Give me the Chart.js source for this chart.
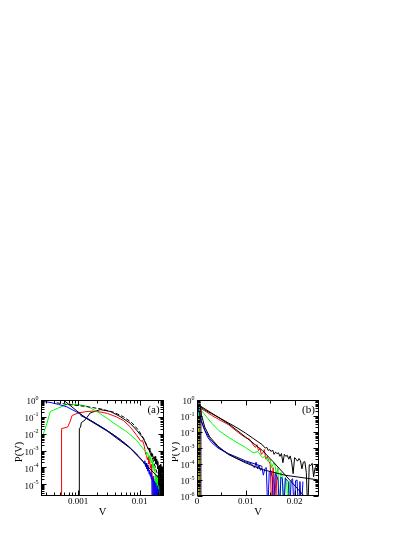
<!DOCTYPE html>
<html>
<head>
<meta charset="utf-8">
<script src="https://cdn.jsdelivr.net/npm/chart.js@4.4.1/dist/chart.umd.min.js"></script>
<style>
  html, body { margin: 0; background: #fff; }
  body { width: 415px; height: 537px; position: relative; overflow: hidden; }
  canvas { position: absolute; }
  #ca { left: 0; top: 380px; }
  #cb { left: 172px; top: 380px; }
</style>
</head>
<body>
<canvas id="ca" width="172" height="135"></canvas>
<canvas id="cb" width="170" height="135"></canvas>
<script>
// ---- panel (a): log-log ----
const aBlueV = [0.00025, 0.00035, 0.00048, 0.00066, 0.00096, 0.00139, 0.00202, 0.00294, 0.00427, 0.0062, 0.009,
  0.0116, 0.0119, 0.0122, 0.0125, 0.0128, 0.0131, 0.0134, 0.0137, 0.014, 0.0143, 0.0146, 0.0149, 0.0152, 0.0155, 0.0158,
  0.0161, 0.0164, 0.0167, 0.017, 0.0173, 0.0176, 0.0179, 0.0182, 0.0185, 0.0188, 0.0191, 0.0194, 0.0197, 0.02, 0.0203];
const aBlueP = [0.85, 0.72, 0.55, 0.39, 0.19, 0.083, 0.037, 0.016, 0.0063, 0.0022, 6e-4,
  2.2e-4, 1.6e-4, 2.5e-4, 1.1e-4, 1.8e-4, 8e-5, 1.4e-4, 6e-5, 1e-4, 4e-5, 7e-5, 3e-5, 5e-5, 2e-5, 4e-5,
  1e-7, 2.5e-5, 1.2e-5, 2e-5, 1e-7, 1.5e-5, 8e-6, 1e-7, 1.2e-5, 5e-6, 1e-7, 8e-6, 1e-7, 5e-6, 1e-7];
const aGreenV = [0.00025, 0.000313, 0.000354, 0.00066, 0.00096, 0.00139, 0.00202, 0.00294, 0.00427, 0.0062, 0.009, 0.0116,
  0.0128, 0.0132, 0.0136, 0.014, 0.0144, 0.0148, 0.0152, 0.0156, 0.016, 0.0164, 0.0168, 0.0172, 0.0176, 0.018, 0.0184,
  0.0188, 0.0192, 0.0196, 0.02, 0.0204, 0.0208];
const aGreenP = [0.004, 0.042, 0.21, 0.55, 0.55, 0.43, 0.21, 0.083, 0.032, 0.013, 0.004, 0.0012,
  8e-4, 6e-4, 7e-4, 4e-4, 5e-4, 2.5e-4, 4e-4, 1.8e-4, 2.5e-4, 1e-4, 1.6e-4, 6e-5, 1e-4, 4e-5, 1e-7,
  3e-5, 1e-5, 2e-5, 1e-7, 8e-6, 1e-7];
const aRedV = [0.00054, 0.00054, 0.00068, 0.00074, 0.0008, 0.001, 0.0013, 0.0017, 0.0022, 0.003, 0.0042, 0.0055, 0.007, 0.009, 0.0105, 0.0112,
  0.0118, 0.0122, 0.0126, 0.013, 0.0134, 0.0138, 0.0142, 0.0146, 0.015, 0.0154, 0.0158, 0.0162, 0.0166, 0.017, 0.0173, 0.0176, 0.0179];
const aRedP = [1e-7, 0.02, 0.025, 0.05, 0.12, 0.17, 0.2, 0.22, 0.2, 0.16, 0.1, 0.06, 0.026, 0.008, 0.0035, 0.004,
  2.2e-3, 1.2e-3, 6e-4, 5e-4, 2.8e-4, 4e-4, 1.6e-4, 3e-4, 9e-5, 1.5e-4, 4e-5, 1.5e-5, 3e-5, 1e-7, 1.2e-5, 1e-7, 1e-7];
const aBlackV = [0.00105, 0.00105, 0.0011, 0.00113, 0.0013, 0.00158, 0.00229, 0.00333, 0.00483, 0.00703, 0.009, 0.0116,
  0.0139, 0.0143, 0.0147, 0.0151, 0.0155, 0.0159, 0.0163, 0.0167, 0.0171, 0.0175, 0.0179, 0.0183, 0.0187, 0.0191, 0.0195,
  0.0199, 0.0203, 0.0207, 0.0211, 0.0215, 0.0219, 0.0223, 0.0227, 0.0231, 0.0235, 0.0239, 0.0243, 0.0247, 0.025];
const aBlackP = [1e-7, 0.02, 0.025, 0.045, 0.065, 0.17, 0.27, 0.21, 0.105, 0.042, 0.016, 0.005,
  1.2e-3, 1.4e-3, 8e-4, 9e-4, 7e-4, 4.5e-4, 6e-4, 3.5e-4, 4.2e-4, 2.5e-4, 4.5e-4, 1.6e-4, 3e-4, 1.5e-4, 2.2e-4,
  8e-5, 1.2e-4, 1e-7, 1.3e-4, 6e-5, 1.5e-4, 1e-7, 8e-5, 1.1e-4, 3e-5, 1e-7, 1.2e-4, 5e-5, 1e-7];
const aNavyV = [0.0011, 0.0015, 0.002, 0.003, 0.0045, 0.0065, 0.0095];
const aNavyP = [0.12, 0.07, 0.038, 0.015, 0.0055, 0.0019, 5e-4];
const aLineV = [0.00058, 0.0013, 0.003, 0.007, 0.012, 0.025];
const aLineP = [1, 0.09, 0.014, 0.0014, 1.8e-4, 1.1e-5];
const aDashV = [0.00045, 0.00066, 0.0013, 0.00229, 0.00377, 0.0055, 0.0075, 0.0095, 0.0116, 0.014, 0.0168, 0.02, 0.0235];
const aDashP = [0.68, 0.55, 0.42, 0.3, 0.19, 0.1, 0.045, 0.017, 0.0055, 0.0012, 2.5e-4, 3e-5, 2e-6];

// ---- panel (b): lin-log ----
const bBlueV = [0.00014, 0.0004, 0.0007, 0.001, 0.0016, 0.0022, 0.003, 0.0043, 0.006, 0.0078, 0.0095,
  0.0112, 0.0115, 0.0118, 0.0121, 0.0124, 0.0127, 0.013, 0.0133, 0.0136, 0.0139, 0.0142, 0.0145, 0.0148, 0.0151, 0.0154,
  0.0157, 0.016, 0.0163, 0.0166, 0.0169, 0.0172, 0.0175, 0.0178, 0.0181, 0.0184, 0.0187, 0.019, 0.0193, 0.0196, 0.0199,
  0.0202, 0.0205, 0.0208, 0.0211, 0.0214, 0.0217];
const bBlueP = [0.65, 0.2, 0.07, 0.036, 0.012, 0.0046, 0.0022, 0.001, 5e-4, 2.5e-4, 1.5e-4,
  1e-4, 7e-5, 6e-5, 1.3e-4, 5e-5, 8e-5, 4e-5, 6e-5, 2e-5, 5e-5, 6e-5, 1e-7, 3e-5, 4e-5, 1.5e-5,
  1e-7, 2.5e-5, 2e-5, 1e-5, 1e-7, 1.5e-5, 1.2e-5, 1e-7, 1.3e-5, 1e-5, 8e-6, 1e-7, 1e-5, 1.2e-5, 1e-7,
  9e-6, 1e-5, 1e-7, 8e-6, 1e-7, 8e-6];
const bGreenV = [0.0003, 0.0003, 0.001, 0.002, 0.003, 0.0045, 0.0065, 0.008, 0.0099, 0.0115, 0.0125, 0.0134, 0.014, 0.0145,
  0.015, 0.0153, 0.0157, 0.016, 0.0163, 0.0166, 0.0169, 0.0172, 0.0175, 0.0178, 0.0181, 0.0184, 0.0187, 0.019, 0.0193];
const bGreenP = [1e-7, 0.4, 0.2, 0.085, 0.036, 0.012, 0.0046, 0.0024, 0.0011, 5e-4, 6e-4, 2.5e-4, 3e-4, 1.5e-4,
  2e-4, 6e-5, 1.2e-4, 8e-5, 2e-5, 6e-5, 1e-7, 3e-5, 1.6e-5, 1e-7, 1.5e-5, 5e-6, 1e-7, 8e-6, 1e-7];
const bRedV = [0.00055, 0.00055, 0.0008, 0.0015, 0.003, 0.0045, 0.0065, 0.0085, 0.0099, 0.0108,
  0.0117, 0.012, 0.0123, 0.0126, 0.0129, 0.0132, 0.0135, 0.0138, 0.0141, 0.0144, 0.0147, 0.015, 0.0153, 0.0156, 0.0159, 0.0162, 0.0165];
const bRedP = [1e-7, 0.12, 0.28, 0.22, 0.11, 0.06, 0.028, 0.009, 0.0045, 0.0035,
  1.3e-3, 1.1e-3, 1.6e-3, 7e-4, 9e-4, 4e-4, 5e-4, 8e-4, 2e-4, 3e-4, 1.5e-4, 1e-4, 1e-7, 6e-5, 1e-7, 3e-5, 1e-7];
const bBlackV = [0.0008, 0.0008, 0.0015, 0.003, 0.0045, 0.0065, 0.008, 0.0099, 0.0115,
  0.0134, 0.0137, 0.014, 0.0143, 0.0146, 0.0149, 0.0152, 0.0155, 0.0158, 0.0161, 0.0164, 0.0167, 0.017, 0.0173, 0.0176,
  0.0179, 0.0182, 0.0185, 0.0188, 0.0191, 0.0194, 0.0197, 0.02, 0.0203, 0.0206, 0.0209, 0.0212, 0.0215, 0.0218, 0.0221,
  0.0224, 0.0227, 0.023, 0.0233, 0.0236, 0.0239, 0.0242, 0.0245, 0.0248, 0.025];
const bBlackP = [1e-7, 0.35, 0.25, 0.14, 0.08, 0.036, 0.02, 0.0087, 0.004,
  1.6e-3, 1.2e-3, 1e-3, 1.1e-3, 7e-4, 8e-4, 6e-4, 7.5e-4, 4e-4, 5.5e-4, 4.5e-4, 5e-4, 3e-4, 4.5e-4, 1.2e-4,
  4e-4, 3e-4, 3.5e-4, 2e-4, 3.2e-4, 1.3e-4, 2.5e-5, 2.5e-4, 2e-4, 1.5e-4, 2.2e-4, 1.6e-4, 5e-5, 1.3e-4, 1.4e-4,
  3e-5, 1e-7, 9e-5, 8e-5, 1.1e-4, 1.6e-5, 6e-5, 5e-5, 7e-5, 1.5e-5];
const bNavyV = [0.0001, 0.0004, 0.0009, 0.0016, 0.0026, 0.0043, 0.0064, 0.0099, 0.0134];
const bNavyP = [0.9, 0.25, 0.05, 0.013, 0.004, 0.0011, 4.5e-4, 1.6e-4, 7e-5];
const bLineV = [0.0005, 0.0009, 0.0016, 0.0026, 0.0043, 0.0064, 0.0099, 0.0134, 0.018, 0.025];
const bLineP = [1, 0.12, 0.02, 0.005, 0.0013, 4e-4, 1.2e-4, 4.5e-5, 2e-5, 1e-5];
const bFitV = [0.0003, 0.0065, 0.0099, 0.0134, 0.0155, 0.019, 0.0217, 0.023];
const bFitP = [0.5, 0.032, 0.005, 7e-4, 1.5e-4, 1e-5, 1.2e-6, 4e-7];

// tick labels
const aXTicks = [0.001, 0.01], aXLabels = ['0.001', '0.01'];
const bXTicks = [0, 0.01, 0.02], bXLabels = ['0', '0.01', '0.02'];
const bXMinor = [0.005, 0.015];
const aYExp = [0, -1, -2, -3, -4, -5];
const bYExp = [0, -1, -2, -3, -4, -5, -6];

const SERIF = '"Liberation Serif", "Times New Roman", serif';

function logMinors(lo, hi) {
  const out = [];
  for (let k = Math.floor(Math.log10(lo)); k <= Math.ceil(Math.log10(hi)); k++) {
    for (let m = 2; m <= 9; m++) {
      const v = m * Math.pow(10, k);
      if (v > lo && v < hi) out.push(v);
    }
  }
  return out;
}

function series(V, P, color, extra) {
  return Object.assign({
    data: V.map((v, i) => ({ x: v, y: P[i] })),
    borderColor: color, borderWidth: 1, pointRadius: 0, tension: 0, fill: false
  }, extra || {});
}

const framePlugin = {
  id: 'frame',
  afterDatasetsDraw(chart, args, o) {
    const { ctx, chartArea: a } = chart;
    const xs = chart.scales.x, ys = chart.scales.y;
    const L = Math.round(a.left) + 0.5, R = Math.round(a.right) - 0.5;
    const T = Math.round(a.top) + 0.5, B = Math.round(a.bottom) - 0.5;
    ctx.save();
    ctx.strokeStyle = '#000';
    ctx.lineWidth = 1;
    ctx.strokeRect(L, T, R - L, B - T);
    ctx.beginPath();
    const tx = (v, len) => {
      const p = Math.round(xs.getPixelForValue(v)) + 0.5;
      ctx.moveTo(p, B); ctx.lineTo(p, B - len);
      ctx.moveTo(p, T); ctx.lineTo(p, T + len);
    };
    const ty = (v, len) => {
      const p = Math.round(ys.getPixelForValue(v)) + 0.5;
      ctx.moveTo(L, p); ctx.lineTo(L + len, p);
      ctx.moveTo(R, p); ctx.lineTo(R - len, p);
    };
    o.xMajor.forEach(v => tx(v, 5));
    o.xMinor.forEach(v => tx(v, 3));
    o.yMajor.forEach(v => ty(v, 5));
    o.yMinor.forEach(v => ty(v, 3));
    ctx.stroke();

    ctx.fillStyle = '#000';
    ctx.textBaseline = 'middle';
    ctx.textAlign = 'center';
    ctx.font = '9px ' + SERIF;
    o.xMajor.forEach((v, i) => ctx.fillText(o.xLabels[i], xs.getPixelForValue(v), B + 6.5));

    o.yMajor.forEach((v, i) => {
      const p = ys.getPixelForValue(v);
      const exp = String(o.yExp[i]);
      ctx.textAlign = 'right';
      ctx.font = '6px ' + SERIF;
      const ew = ctx.measureText(exp).width;
      ctx.fillText(exp, L - 3, p - 2);
      ctx.font = '9px ' + SERIF;
      ctx.fillText('10', L - 3 - ew, p + 2);
    });

    ctx.textAlign = 'center';
    ctx.font = '10.5px ' + SERIF;
    ctx.fillText('V', (L + R) / 2, B + 16.5);
    ctx.save();
    ctx.translate(o.yTitleX, (T + B) / 2 + 4);
    ctx.rotate(-Math.PI / 2);
    ctx.fillText('P(V)', 0, 0);
    ctx.restore();
    ctx.font = '11px ' + SERIF;
    ctx.fillText(o.tag, R - 10, T + 10);
    ctx.restore();
  }
};

function makeChart(id, datasets, xScale, yScale, padding, frame) {
  return new Chart(document.getElementById(id), {
    type: 'line',
    data: { datasets },
    options: {
      responsive: false,
      animation: false,
      events: [],
      layout: { padding },
      plugins: { legend: { display: false }, tooltip: { enabled: false }, frame },
      scales: { x: Object.assign({ display: false }, xScale), y: Object.assign({ display: false }, yScale) }
    },
    plugins: [framePlugin]
  });
}

makeChart('ca', [
  series(aNavyV, aNavyP, '#000080'),
  series(aLineV, aLineP, '#000000'),
  series(aDashV, aDashP, '#000000', { borderDash: [4, 2] }),
  series(aBlueV, aBlueP, '#0000ff'),
  series(aGreenV, aGreenP, '#00ff00'),
  series(aRedV, aRedP, '#ff0000'),
  series(aBlackV, aBlackP, '#000000')
],
  { type: 'logarithmic', min: 0.00025, max: 0.025 },
  { type: 'logarithmic', min: 2e-6, max: 1 },
  { left: 41, top: 20, right: 8, bottom: 19 },
  {
    xMajor: aXTicks, xLabels: aXLabels, xMinor: logMinors(0.00025, 0.025),
    yMajor: aYExp.map(e => Math.pow(10, e)), yExp: aYExp, yMinor: logMinors(2e-6, 1),
    yTitleX: 19, tag: '(a)'
  });

makeChart('cb', [
  series(bNavyV, bNavyP, '#000080'),
  series(bLineV, bLineP, '#000000'),
  series(bFitV, bFitP, '#000000'),
  series(bBlueV, bBlueP, '#0000ff'),
  series(bGreenV, bGreenP, '#00ff00'),
  series(bRedV, bRedP, '#ff0000'),
  series(bBlackV, bBlackP, '#000000')
],
  { type: 'linear', min: 0, max: 0.025 },
  { type: 'logarithmic', min: 1e-6, max: 1 },
  { left: 25, top: 20, right: 23, bottom: 19 },
  {
    xMajor: bXTicks, xLabels: bXLabels, xMinor: bXMinor,
    yMajor: bYExp.map(e => Math.pow(10, e)), yExp: bYExp, yMinor: logMinors(1e-6, 1),
    yTitleX: 3, tag: '(b)'
  });
</script>
</body>
</html>
